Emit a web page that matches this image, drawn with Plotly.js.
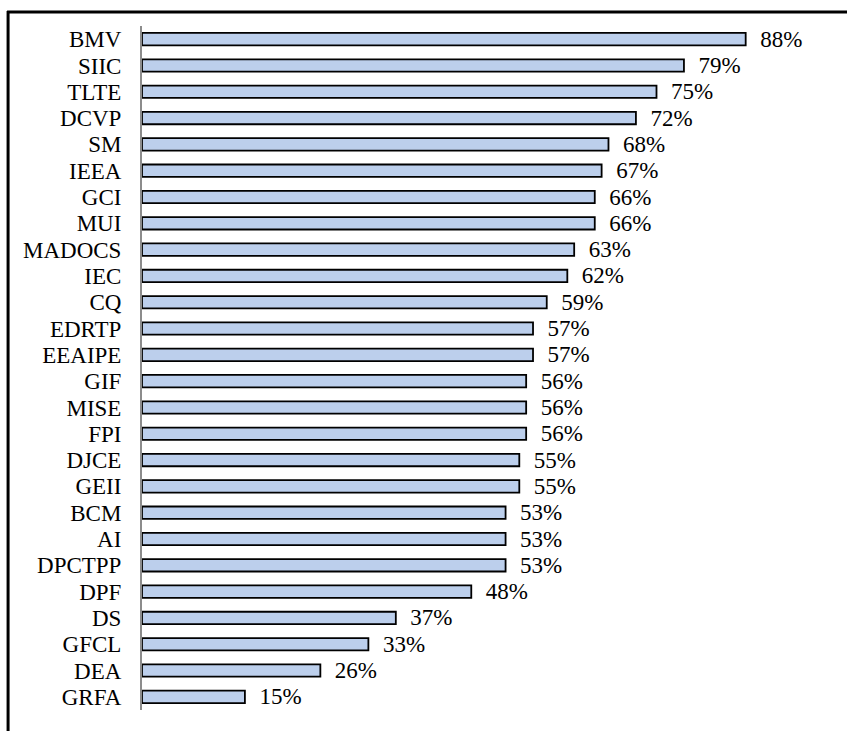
<!DOCTYPE html>
<html>
<head>
<meta charset="utf-8">
<script src="https://cdn.plot.ly/plotly-3.0.1.min.js"></script>
<style>
html,body{margin:0;padding:0;background:#fff;}
#chart{width:847px;height:731px;}
</style>
</head>
<body>
<div id="chart"></div>
<script>
const categories = ["BMV","SIIC","TLTE","DCVP","SM","IEEA","GCI","MUI","MADOCS","IEC","CQ","EDRTP","EEAIPE","GIF","MISE","FPI","DJCE","GEII","BCM","AI","DPCTPP","DPF","DS","GFCL","DEA","GRFA"];
const values = [88,79,75,72,68,67,66,66,63,62,59,57,57,56,56,56,55,55,53,53,53,48,37,33,26,15];

const W = 847, H = 731;
const mL = 142, mR = 18.6, mT = 26, mB = 21;
const pw = W - mL - mR, ph = H - mT - mB;
const px2x = p => (p - mL) / pw;
const px2y = p => 1 - (p - mT) / ph;
const FONT = '"Liberation Serif", "Times New Roman", serif';

const trace = {
  type: 'bar',
  orientation: 'h',
  x: values,
  y: categories,
  width: 0.47,
  marker: {color: '#bccfec', line: {color: '#000000', width: 1.8}},
  text: values.map(v => '\u00a0\u00a0' + v + '%'),
  textposition: 'outside',
  constraintext: 'none',
  cliponaxis: false,
  textfont: {family: FONT, size: 23, color: '#000'},
  outsidetextfont: {family: FONT, size: 23, color: '#000'},
  hoverinfo: 'none'
};

const layout = {
  width: W, height: H,
  margin: {l: mL, r: mR, t: mT, b: mB, pad: 0},
  paper_bgcolor: '#fff', plot_bgcolor: '#fff',
  showlegend: false,
  font: {family: FONT, size: 23, color: '#000'},
  xaxis: {range: [0, 100], visible: false, fixedrange: true},
  yaxis: {
    autorange: 'reversed', showline: true, linecolor: '#8c8c8c', linewidth: 2,
    tickmode: 'array', tickvals: categories, ticktext: categories,
    ticks: '', showgrid: false, zeroline: false, ticklabelstandoff: 14,
    ticklabeloverflow: 'allow',
    tickfont: {family: FONT, size: 23, color: '#000'},
    fixedrange: true
  },
  shapes: [
    {type: 'line', xref: 'paper', yref: 'paper', x0: px2x(7), x1: px2x(W + 5), y0: px2y(12), y1: px2y(12), line: {color: '#000', width: 3}},
    {type: 'line', xref: 'paper', yref: 'paper', x0: px2x(8), x1: px2x(8), y0: px2y(11), y1: px2y(H + 5), line: {color: '#000', width: 3}}
  ]
};

Plotly.newPlot('chart', [trace], layout, {displayModeBar: false, staticPlot: true});
</script>
</body>
</html>
